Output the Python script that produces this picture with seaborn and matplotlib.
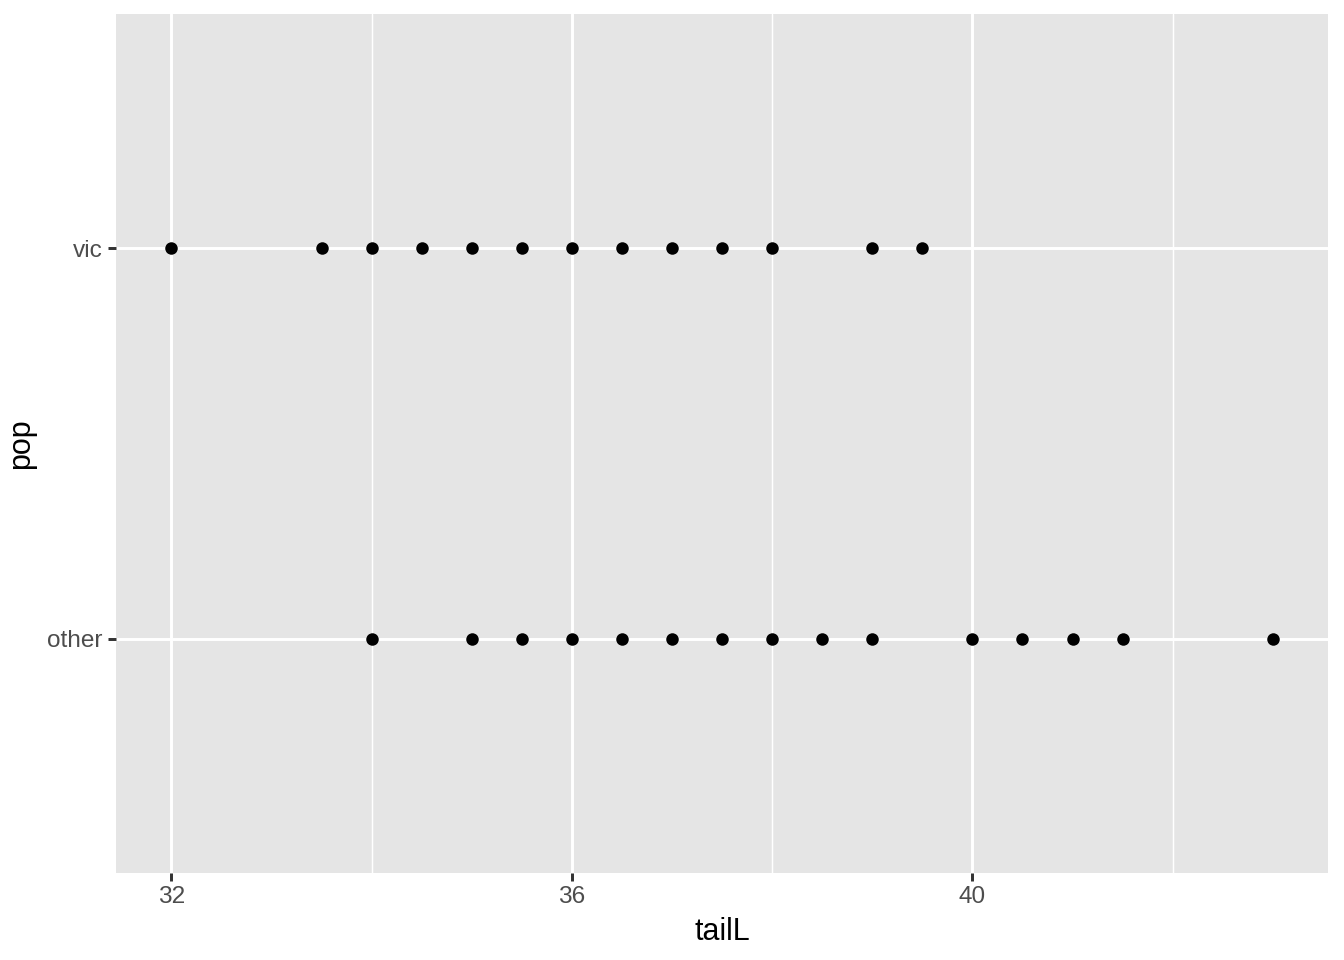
import matplotlib
matplotlib.use('Agg')
import matplotlib.pyplot as plt
import pandas as pd
import seaborn as sns

# valores
tail_vic = [32, 33.5, 34, 34.5, 35, 35.5, 36, 36.5, 37, 37.5, 38, 39, 39.5]
tail_other = [34, 35, 35.5, 36, 36.5, 37, 37.5, 38, 38.5, 39, 40, 40.5, 41, 41.5, 43]
pops = ['vic', 'other']
x_ticks = [32, 36, 40]
x_minor = [34, 38, 42]

df = pd.DataFrame({
    'tailL': tail_vic + tail_other,
    'pop': ['vic'] * len(tail_vic) + ['other'] * len(tail_other),
})

sns.set_theme(style='darkgrid')
plt.rcParams['font.family'] = ['Liberation Sans', 'DejaVu Sans']

fig = plt.figure(figsize=(6.72, 4.8), dpi=200)
ax = fig.add_axes([0.0865, 0.091, 0.9015, 0.894])
ax.set_facecolor('#E5E5E5')

sns.stripplot(data=df, x='tailL', y='pop', order=pops, jitter=False,
              color='black', size=4.5, linewidth=0, ax=ax, zorder=3)

lo, hi = min(df['tailL']), max(df['tailL'])
pad = (hi - lo) * 0.05
ax.set_xlim(lo - pad, hi + pad)
ax.set_ylim(1.6, -0.6)

ax.set_xticks(x_ticks)
ax.set_xticks(x_minor, minor=True)
ax.grid(True, which='major', color='white', linewidth=1.07)
ax.grid(True, which='minor', color='white', linewidth=0.53)
ax.set_axisbelow(True)
for s in ax.spines.values():
    s.set_visible(False)

ax.tick_params(axis='both', which='major', length=2.75, width=1.07, color='#333333',
               labelsize=8.8, labelcolor='#4D4D4D', pad=2.2, bottom=True, left=True)
ax.tick_params(axis='both', which='minor', length=0)
ax.set_xlabel('tailL', fontsize=11, color='black', labelpad=3)
ax.set_ylabel('pop', fontsize=11, color='black', labelpad=4)

fig.savefig('out.png', dpi=200)
